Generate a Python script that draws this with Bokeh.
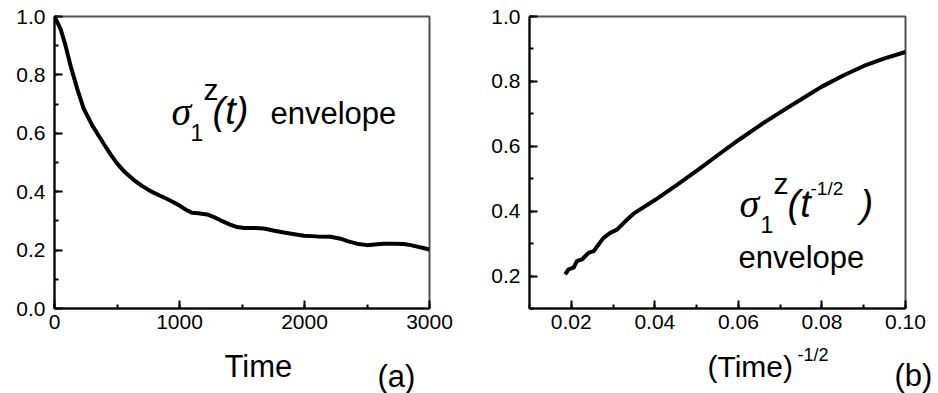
from bokeh.plotting import figure
from bokeh.models import Range1d, SingleIntervalTicker, NumeralTickFormatter, Label
from bokeh.layouts import row, column
from bokeh.embed import file_html
from bokeh.resources import INLINE

# ---- data ----
time_a = [0, 48, 88, 128, 182, 234, 302, 341, 400, 450, 500, 560, 635, 700, 768, 840,
          901, 960, 1008, 1060, 1100, 1150, 1221, 1280, 1328, 1400, 1450, 1515, 1600,
          1675, 1750, 1835, 1920, 1995, 2100, 2208, 2288, 2350, 2420, 2501, 2560, 2635,
          2720, 2795, 2850, 2901, 2950, 3000]
env_a = [1.0, 0.958, 0.901, 0.832, 0.752, 0.684, 0.627, 0.600, 0.560, 0.527, 0.497,
         0.468, 0.440, 0.420, 0.402, 0.387, 0.375, 0.362, 0.350, 0.336, 0.328, 0.326,
         0.322, 0.312, 0.302, 0.288, 0.280, 0.276, 0.276, 0.274, 0.267, 0.260, 0.254,
         0.249, 0.247, 0.246, 0.239, 0.230, 0.222, 0.217, 0.219, 0.222, 0.222, 0.221,
         0.217, 0.212, 0.207, 0.202]

inv_sqrt_t_b = [0.01855, 0.01934, 0.02054, 0.02135, 0.02255, 0.02413, 0.02533, 0.02653,
                0.02773, 0.02933, 0.03094, 0.03293, 0.03491, 0.04011, 0.04530, 0.05089,
                0.05568, 0.06007, 0.06526, 0.07085, 0.07564, 0.07987, 0.08522, 0.09002,
                0.09481, 0.10]
env_b = [0.205, 0.2205, 0.2257, 0.2459, 0.2511, 0.2717, 0.2766, 0.2971, 0.3177, 0.3331,
         0.3432, 0.3687, 0.3923, 0.435, 0.4813, 0.5325, 0.5785, 0.6194, 0.6655, 0.7115,
         0.7494, 0.7831, 0.8190, 0.8476, 0.8701, 0.8905]

FONT = "Liberation Sans"
TICK_FS = "21px"


def style_axis(ax, fmt, major, minor_n, standoff):
    ax.ticker = SingleIntervalTicker(interval=major, num_minor_ticks=minor_n)
    ax.formatter = NumeralTickFormatter(format=fmt)
    ax.major_tick_in = 8
    ax.major_tick_out = 0
    ax.minor_tick_in = 4
    ax.minor_tick_out = 0
    ax.axis_line_width = 2
    ax.axis_line_color = "black"
    ax.major_tick_line_width = 2
    ax.major_tick_line_color = "black"
    ax.minor_tick_line_width = 2
    ax.minor_tick_line_color = "black"
    ax.major_label_text_font = FONT
    ax.major_label_text_font_size = TICK_FS
    ax.major_label_text_color = "black"
    ax.major_label_standoff = standoff


def lab(p, x, y, text, size, italic=False, font=FONT):
    # y is the wanted baseline height above the frame bottom; the label box sits
    # about 0.36 em lower than that, so lift it by that much
    p.add_layout(Label(x=x, y=y + round(0.36 * size), x_units="screen", y_units="screen",
                       text=text, text_font=font, text_font_size=f"{size}px",
                       text_font_style="italic" if italic else "normal",
                       text_color="black", text_baseline="alphabetic", text_align="left"))


# ---------------- panel (a) ----------------
pa = figure(width=470, height=340, x_range=Range1d(0, 3000), y_range=Range1d(0, 1.0),
            output_backend="svg", toolbar_location=None, title=None,
            min_border_left=54, min_border_right=41, min_border_top=16, min_border_bottom=32)
pa.grid.visible = False
pa.outline_line_color = "#505050"
pa.outline_line_width = 2
style_axis(pa.xaxis[0], "0", 1000, 2, 6)
style_axis(pa.yaxis[0], "0.0", 0.2, 2, 9)
pa.line(time_a, env_a, line_color="black", line_width=4, line_join="round")

lab(pa, 117, 183, "σ", 40, italic=True, font="Liberation Serif")
lab(pa, 136, 168, "1", 23)
lab(pa, 149, 208, "z", 30)
lab(pa, 158, 184, "(t)", 38, italic=True)
lab(pa, 216, 184, "envelope", 31)

# ---------------- panel (b) ----------------
pb = figure(width=468, height=340, x_range=Range1d(0.01, 0.10), y_range=Range1d(0.1, 1.0),
            output_backend="svg", toolbar_location=None, title=None,
            min_border_left=59, min_border_right=33, min_border_top=16, min_border_bottom=32)
pb.grid.visible = False
pb.outline_line_color = "#505050"
pb.outline_line_width = 2
style_axis(pb.xaxis[0], "0.00", 0.02, 2, 6)
style_axis(pb.yaxis[0], "0.0", 0.2, 2, 9)
pb.line(inv_sqrt_t_b, env_b, line_color="black", line_width=4, line_join="round")

lab(pb, 210, 91, "σ", 40, italic=True, font="Liberation Serif")
lab(pb, 231, 76, "1", 23)
lab(pb, 244, 114, "z", 30)
lab(pb, 258, 91, "(t", 38, italic=True)
lab(pb, 281, 113, "-1/2", 19)
lab(pb, 331, 91, ")", 38, italic=True)
lab(pb, 209, 40, "envelope", 31)

# ---------------- strip with the axis titles ----------------
strip = figure(width=938, height=53, x_range=Range1d(0, 938), y_range=Range1d(0, 53),
               output_backend="svg", toolbar_location=None, title=None,
               x_axis_type=None, y_axis_type=None,
               min_border_left=0, min_border_right=0, min_border_top=0, min_border_bottom=0)
strip.grid.visible = False
strip.outline_line_color = None

lab(strip, 224, 16, "Time", 31)
lab(strip, 377, 6, "(a)", 31)
lab(strip, 707, 16, "(Time)", 30)
lab(strip, 797, 33, "-1/2", 18)
lab(strip, 894, 7, "(b)", 31)

layout = column(row(pa, pb), strip)
open("out.html", "w").write(file_html(layout, INLINE))
